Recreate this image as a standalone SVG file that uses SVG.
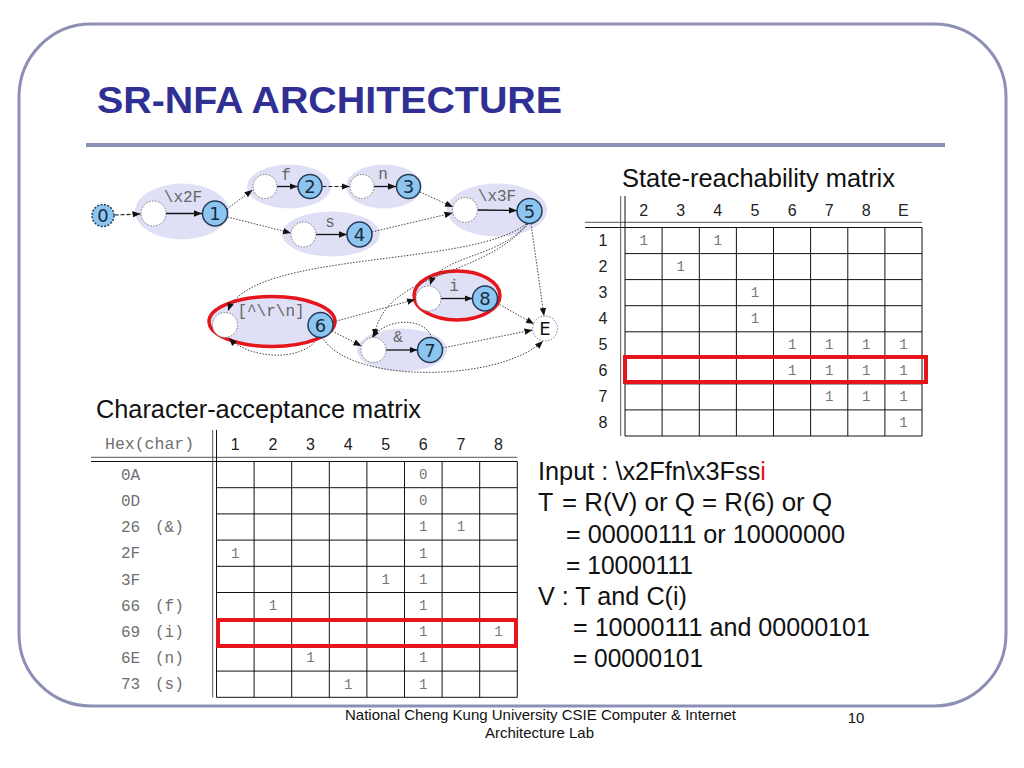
<svg xmlns="http://www.w3.org/2000/svg" width="1024" height="768" viewBox="0 0 1024 768">
<defs>
<marker id="ah" markerUnits="userSpaceOnUse" markerWidth="9" markerHeight="8" refX="8" refY="4" orient="auto">
<path d="M0,0.8 L8,4 L0,7.2 Z" fill="#111"/>
</marker>
<style>
.frame{fill:#fff;stroke:#8d90b6;stroke-width:3}
.sep{stroke:#8d90b6;stroke-width:4}
.title{font-family:"Liberation Sans",Arial,sans-serif;font-weight:bold;font-size:36px;fill:#2f2f94}
.cap{font-family:"Liberation Sans",Arial,sans-serif;font-size:25px;fill:#111}
.body{font-family:"Liberation Sans",Arial,sans-serif;font-size:25px;fill:#111}
.foot{font-family:"Liberation Sans",Arial,sans-serif;font-size:15px;fill:#111}
.hdr{font-family:"Liberation Sans",Arial,sans-serif;font-size:16px;fill:#222;text-anchor:middle}
.mono{font-family:"Liberation Mono","Courier New",monospace;fill:#707070}
.cell{font-family:"Liberation Mono","Courier New",monospace;font-size:14px;fill:#777;text-anchor:middle}
.grid{stroke:#111;stroke-width:1;fill:none}
.dbl{stroke:#555;stroke-width:1}
.hl{fill:none;stroke:#e8141b;stroke-width:4}
.lav{fill:#dfe0f6}
.st{fill:#8cc6f0;stroke:#263a55;stroke-width:1.5}
.st0{fill:#8cc6f0;stroke:#263a55;stroke-width:1.5;stroke-dasharray:2 1.5}
.em{fill:#fff;stroke:#777;stroke-width:1;stroke-dasharray:1.5 1.5}
.num{font-family:"DejaVu Sans",sans-serif;font-size:18px;fill:#1b2a3c;text-anchor:middle}
.lbl{font-family:"Liberation Mono","Courier New",monospace;font-size:16px;fill:#666;text-anchor:middle}
.dot{fill:none;stroke:#444;stroke-width:1;stroke-dasharray:1.5 1.5;marker-end:url(#ah)}
.dash{fill:none;stroke:#222;stroke-width:1.2;stroke-dasharray:4 2;marker-end:url(#ah)}
.sol{fill:none;stroke:#111;stroke-width:1.3;marker-end:url(#ah)}
.ringr{fill:#dfe0f6;stroke:#e8141b;stroke-width:3.5}
</style>
</defs>
<rect width="1024" height="768" fill="#fff"/>
<path class="frame" d="M91,24 H934 A72,73 0 0 1 1006,97 V634 A72,72 0 0 1 934,706 H91 A72,72 0 0 1 19,634 V97 A72,73 0 0 1 91,24 Z"/>
<text class="title" x="97" y="113" textLength="465" lengthAdjust="spacingAndGlyphs">SR-NFA ARCHITECTURE</text>
<line class="sep" x1="86" y1="145" x2="945" y2="145"/>

<!-- NFA graph -->
<g id="groups">
<ellipse class="lav" cx="182" cy="211.5" rx="47" ry="28"/>
<ellipse class="lav" cx="289" cy="186.5" rx="42" ry="22"/>
<ellipse class="lav" cx="384" cy="186.5" rx="38" ry="22"/>
<ellipse class="lav" cx="331" cy="234" rx="49" ry="22.5"/>
<ellipse class="lav" cx="497" cy="210" rx="50" ry="26.5"/>
<ellipse class="lav" cx="402" cy="350" rx="45" ry="21.5"/>
<ellipse class="ringr" cx="272" cy="321.5" rx="63" ry="25"/>
<ellipse class="ringr" cx="457" cy="295.5" rx="43" ry="24.5"/>
</g>
<g id="connectors">
<path class="dash" d="M114.5,215 L140.5,214"/>
<path class="sol" d="M166,213.5 L202,213.5"/>
<path class="dot" d="M227,209 L252.5,190"/>
<path class="sol" d="M277,186.5 L297.5,186.5"/>
<path class="dash" d="M322.5,186.5 L349.5,186.5"/>
<path class="sol" d="M374,186.5 L396,186.5"/>
<path class="dot" d="M227.5,217 L291,233"/>
<path class="sol" d="M316,234.5 L347,234.5"/>
<path class="dot" d="M420,192 L453,207"/>
<path class="dot" d="M372,232 L452.5,213"/>
<path class="sol" d="M477.5,210 L517,210.5"/>
<path class="dot" d="M531,223.5 L544,316"/>
<path class="dot" d="M526,224 C470,268 250,250 228,311"/>
<path class="dot" d="M527,224 C500,258 440,255 430,285"/>
<path class="dot" d="M528,224 C480,280 385,270 374,337"/>
<path class="dot" d="M318,337 C305,362 250,360 229,338"/>
<path class="dot" d="M333,322 L415,299.5"/>
<path class="dot" d="M332,331 L361.5,346"/>
<path class="dot" d="M322,337 C350,385 500,382 543,341"/>
<path class="dot" d="M432,338 C425,316 385,318 372,338"/>
<path class="sol" d="M386,350 L417.5,350"/>
<path class="dot" d="M442.5,348 L532.5,330"/>
<path class="sol" d="M441,298.5 L472.5,298.5"/>
<path class="dot" d="M497,303 L534,324"/>
</g>
<g id="labels">
<text class="lbl" x="183" y="202">\x2F</text>
<text class="lbl" x="286" y="180">f</text>
<text class="lbl" x="383" y="179">n</text>
<text class="lbl" x="330" y="227">s</text>
<text class="lbl" x="497" y="201">\x3F</text>
<text class="lbl" x="271" y="316">[^\r\n]</text>
<text class="lbl" x="398" y="342">&amp;</text>
<text class="lbl" x="454" y="291">i</text>
</g>
<g id="node0"><circle class="st0" cx="103" cy="215.5" r="11"/><text class="num" x="103" y="222">0</text></g>
<g id="e_x2F"><circle class="em" cx="153.5" cy="213.5" r="12.5"/></g>
<g id="node1"><circle class="st" cx="215" cy="213.5" r="12.5"/><text class="num" x="215" y="220">1</text></g>
<g id="e_f"><circle class="em" cx="265" cy="186.5" r="12"/></g>
<g id="node2"><circle class="st" cx="310" cy="186.5" r="12"/><text class="num" x="310" y="193">2</text></g>
<g id="e_n"><circle class="em" cx="362" cy="186.5" r="12"/></g>
<g id="node3"><circle class="st" cx="408.5" cy="186.5" r="12"/><text class="num" x="408.5" y="193">3</text></g>
<g id="e_s"><circle class="em" cx="303.5" cy="234.5" r="12.5"/></g>
<g id="node4"><circle class="st" cx="359.5" cy="234.5" r="12.5"/><text class="num" x="359.5" y="241">4</text></g>
<g id="e_x3F"><circle class="em" cx="465" cy="210" r="12.5"/></g>
<g id="node5"><circle class="st" cx="529.5" cy="211" r="12.5"/><text class="num" x="529.5" y="217.5">5</text></g>
<g id="e_6"><circle class="em" cx="225" cy="325" r="12.5"/></g>
<g id="node6"><circle class="st" cx="320.5" cy="325" r="12.5"/><text class="num" x="320.5" y="331.5">6</text></g>
<g id="e_i"><circle class="em" cx="428.5" cy="298.5" r="12.5"/></g>
<g id="node8"><circle class="st" cx="485" cy="298.5" r="12.5"/><text class="num" x="485" y="305">8</text></g>
<g id="e_amp"><circle class="em" cx="373.5" cy="350" r="12.5"/></g>
<g id="node7"><circle class="st" cx="430" cy="350" r="12.5"/><text class="num" x="430" y="356.5">7</text></g>
<g id="nodeE"><circle class="em" cx="545" cy="328.5" r="12.5"/><text class="num" x="545" y="335" style="fill:#111">E</text></g>

<!-- State-reachability matrix -->
<g id="state-matrix">
<text class="cap" x="622" y="187" textLength="273" lengthAdjust="spacingAndGlyphs">State-reachability matrix</text>
<line class="dbl" x1="620.7" y1="196" x2="620.7" y2="436"/>
<line class="dbl" x1="585" y1="222.3" x2="922" y2="222.3"/>
<path class="grid" d="M625,196 V436 M662.1,227.5 V436 M699.3,227.5 V436 M736.4,227.5 V436 M773.5,227.5 V436 M810.6,227.5 V436 M847.8,227.5 V436 M884.9,227.5 V436 M922,227.5 V436
M585,227.5 H922 M625,253.6 H922 M625,279.6 H922 M625,305.7 H922 M625,331.8 H922 M625,357.8 H922 M625,383.9 H922 M625,409.9 H922 M625,436 H922"/>
<g class="hdr">
<text x="643.6" y="216">2</text><text x="680.7" y="216">3</text><text x="717.8" y="216">4</text><text x="755" y="216">5</text>
<text x="792.1" y="216">6</text><text x="829.2" y="216">7</text><text x="866.3" y="216">8</text><text x="903.4" y="216">E</text>
<text x="603" y="246">1</text><text x="603" y="272">2</text><text x="603" y="298">3</text><text x="603" y="324">4</text>
<text x="603" y="350">5</text><text x="603" y="376">6</text><text x="603" y="402">7</text><text x="603" y="428">8</text>
</g>
<g class="cell">
<text x="643.6" y="245">1</text><text x="717.8" y="245">1</text>
<text x="680.7" y="271">1</text>
<text x="755" y="297">1</text>
<text x="755" y="323">1</text>
<text x="792.1" y="349">1</text><text x="829.2" y="349">1</text><text x="866.3" y="349">1</text><text x="903.4" y="349">1</text>
<text x="792.1" y="375">1</text><text x="829.2" y="375">1</text><text x="866.3" y="375">1</text><text x="903.4" y="375">1</text>
<text x="829.2" y="401">1</text><text x="866.3" y="401">1</text><text x="903.4" y="401">1</text>
<text x="903.4" y="427">1</text>
</g>
<rect class="hl" x="625" y="357" width="301" height="25"/>
</g>

<!-- Character-acceptance matrix -->
<g id="char-matrix">
<text class="cap" x="96" y="418" textLength="325" lengthAdjust="spacingAndGlyphs">Character-acceptance matrix</text>
<text class="mono" x="105" y="449" font-size="16.5">Hex(char)</text>
<line class="dbl" x1="212.7" y1="430" x2="212.7" y2="697.3"/>
<line class="dbl" x1="91" y1="457.3" x2="517.3" y2="457.3"/>
<path class="grid" d="M216.5,430 V697.3 M254.1,461.5 V697.3 M291.7,461.5 V697.3 M329.3,461.5 V697.3 M366.9,461.5 V697.3 M404.5,461.5 V697.3 M442.1,461.5 V697.3 M479.7,461.5 V697.3 M517.3,461.5 V697.3
M91,461.5 H517.3 M216.5,487.7 H517.3 M216.5,513.9 H517.3 M216.5,540.1 H517.3 M216.5,566.3 H517.3 M216.5,592.5 H517.3 M216.5,618.7 H517.3 M216.5,644.9 H517.3 M216.5,671.1 H517.3 M216.5,697.3 H517.3"/>
<g class="hdr">
<text x="235.3" y="450">1</text><text x="272.9" y="450">2</text><text x="310.5" y="450">3</text><text x="348.1" y="450">4</text>
<text x="385.7" y="450">5</text><text x="423.3" y="450">6</text><text x="460.9" y="450">7</text><text x="498.5" y="450">8</text>
</g>
<g class="mono" font-size="16">
<text x="121" y="480">0A</text>
<text x="121" y="506">0D</text>
<text x="121" y="532">26</text><text x="155" y="532">(&amp;)</text>
<text x="121" y="558">2F</text>
<text x="121" y="585">3F</text>
<text x="121" y="611">66</text><text x="155" y="611">(f)</text>
<text x="121" y="637">69</text><text x="155" y="637">(i)</text>
<text x="121" y="663">6E</text><text x="155" y="663">(n)</text>
<text x="121" y="689">73</text><text x="155" y="689">(s)</text>
</g>
<g class="cell">
<text x="423.3" y="479">0</text>
<text x="423.3" y="505">0</text>
<text x="423.3" y="531">1</text><text x="460.9" y="531">1</text>
<text x="235.3" y="558">1</text><text x="423.3" y="558">1</text>
<text x="385.7" y="584">1</text><text x="423.3" y="584">1</text>
<text x="272.9" y="610">1</text><text x="423.3" y="610">1</text>
<text x="423.3" y="636">1</text><text x="498.5" y="636">1</text>
<text x="310.5" y="662">1</text><text x="423.3" y="662">1</text>
<text x="348.1" y="689">1</text><text x="423.3" y="689">1</text>
</g>
<rect class="hl" x="218" y="620" width="298" height="26"/>
</g>

<!-- Explanation -->
<g id="explain" class="body">
<text x="538" y="480" textLength="228" lengthAdjust="spacingAndGlyphs">Input : \x2Ffn\x3Fss<tspan fill="#e8141b">i</tspan></text>
<text x="538" y="511">T</text><text x="562" y="511" textLength="270" lengthAdjust="spacingAndGlyphs">= R(V) or Q = R(6) or Q</text>
<text x="566" y="543" textLength="279" lengthAdjust="spacingAndGlyphs">= 00000111 or 10000000</text>
<text x="566" y="574" textLength="127" lengthAdjust="spacingAndGlyphs">= 10000111</text>
<text x="538" y="605" textLength="149" lengthAdjust="spacingAndGlyphs">V : T and C(i)</text>
<text x="573" y="636" textLength="297" lengthAdjust="spacingAndGlyphs">= 10000111 and 00000101</text>
<text x="573" y="667" textLength="130" lengthAdjust="spacingAndGlyphs">= 00000101</text>
</g>

<g id="footer" class="foot">
<text x="345" y="720" textLength="391" lengthAdjust="spacingAndGlyphs">National Cheng Kung University CSIE Computer &amp; Internet</text>
<text x="485" y="738" textLength="109" lengthAdjust="spacingAndGlyphs">Architecture Lab</text>
<text x="856" y="723" text-anchor="middle">10</text>
</g>
</svg>
